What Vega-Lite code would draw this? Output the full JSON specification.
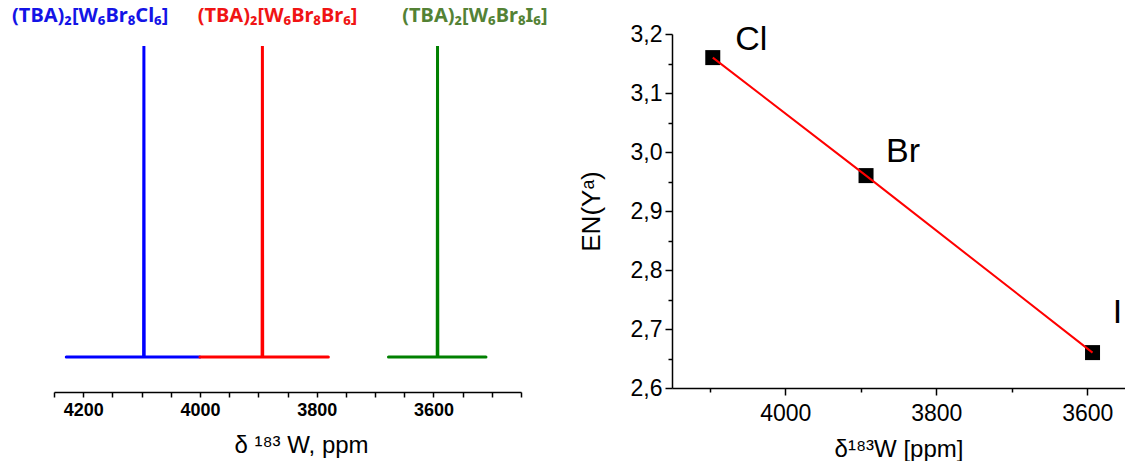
{
  "$schema": "https://vega.github.io/schema/vega-lite/v6.json",
  "background": "white",
  "autosize": {"type": "pad"},
  "padding": {"left": 12, "top": 6, "right": 0, "bottom": 0},
  "spacing": 151,
  "bounds": "flush",
  "config": {
    "view": {"stroke": null},
    "axis": {
      "domainColor": "black",
      "tickColor": "black",
      "labelColor": "black",
      "titleColor": "black",
      "grid": false,
      "labelFont": "Liberation Sans",
      "titleFont": "Liberation Sans",
      "titleFontWeight": "normal"
    }
  },
  "datasets": {
    "spectra": [
      {"compound": "Cl", "ppm": 4229, "v": 0},
      {"compound": "Cl", "ppm": 4096.5, "v": 0},
      {"compound": "Cl", "ppm": 4096, "v": 1},
      {"compound": "Cl", "ppm": 4095.5, "v": 0},
      {"compound": "Cl", "ppm": 4000, "v": 0},
      {"compound": "Br", "ppm": 4000, "v": 0},
      {"compound": "Br", "ppm": 3893.5, "v": 0},
      {"compound": "Br", "ppm": 3893, "v": 1},
      {"compound": "Br", "ppm": 3892.5, "v": 0},
      {"compound": "Br", "ppm": 3780, "v": 0},
      {"compound": "I", "ppm": 3677, "v": 0},
      {"compound": "I", "ppm": 3593.5, "v": 0},
      {"compound": "I", "ppm": 3593, "v": 1},
      {"compound": "I", "ppm": 3592.5, "v": 0},
      {"compound": "I", "ppm": 3510, "v": 0}
    ],
    "peaklabels": [
      {"compound": "Cl", "label": "(TBA)₂[W₆Br₈Cl₆]", "ppm": 4188, "v": 1.095},
      {"compound": "Br", "label": "(TBA)₂[W₆Br₈Br₆]", "ppm": 3867, "v": 1.095},
      {"compound": "I", "label": "(TBA)₂[W₆Br₈I₆]", "ppm": 3529, "v": 1.095}
    ],
    "points": [
      {"halogen": "Cl", "ppm": 4096, "en": 3.16},
      {"halogen": "Br", "ppm": 3893, "en": 2.96},
      {"halogen": "I", "ppm": 3593, "en": 2.66}
    ],
    "elabels": [
      {"halogen": "Cl", "ppm": 4045, "en": 3.19},
      {"halogen": "Br", "ppm": 3844, "en": 3.0},
      {"halogen": "I", "ppm": 3560, "en": 2.727}
    ]
  },
  "hconcat": [
    {
      "width": 467,
      "height": 358,
      "resolve": {"scale": {"color": "independent"}},
      "encoding": {
        "x": {
          "field": "ppm",
          "type": "quantitative",
          "scale": {"domain": [3450, 4250], "reverse": true, "nice": false, "zero": false},
          "axis": {
            "values": [4250, 4200, 4150, 4100, 4050, 4000, 3950, 3900, 3850, 3800, 3750, 3700, 3650, 3600, 3550, 3500, 3450],
            "format": "d",
            "labelExpr": "datum.value % 200 === 0 ? datum.label : ''",
            "labelFontWeight": "bold",
            "labelFontSize": 18,
            "labelPadding": 4,
            "labelOverlap": false,
            "labelFlush": false,
            "tickSize": 5,
            "tickWidth": 1.5,
            "domainWidth": 1.5,
            "title": "δ ¹⁸³ W, ppm",
            "titleFontSize": 24,
            "titlePadding": 14,
            "titleX": 247
          }
        },
        "y": {
          "field": "v",
          "type": "quantitative",
          "scale": {"domain": [-0.1125, 1.0386], "nice": false, "zero": false},
          "axis": null
        }
      },
      "layer": [
        {
          "data": {"name": "spectra"},
          "mark": {"type": "line", "strokeWidth": 3, "strokeCap": "round"},
          "encoding": {
            "color": {
              "field": "compound",
              "type": "nominal",
              "scale": {"domain": ["Cl", "Br", "I"], "range": ["#0000ff", "#ff0000", "#008000"]},
              "legend": null
            }
          }
        },
        {
          "data": {"name": "peaklabels"},
          "mark": {"type": "text", "font": "Noto Sans", "fontWeight": "bold", "fontSize": 20, "align": "center", "baseline": "middle"},
          "encoding": {
            "text": {"field": "label"},
            "color": {
              "field": "compound",
              "type": "nominal",
              "scale": {"domain": ["Cl", "Br", "I"], "range": ["#1414e6", "#f01414", "#548235"]},
              "legend": null
            }
          }
        }
      ]
    },
    {
      "width": 453,
      "height": 354,
      "encoding": {
        "x": {
          "field": "ppm",
          "type": "quantitative",
          "scale": {"domain": [3550, 4150], "reverse": true, "nice": false, "zero": false},
          "axis": {
            "values": [4100, 4000, 3900, 3800, 3700, 3600],
            "format": "d",
            "labelExpr": "datum.value % 200 === 0 ? datum.label : ''",
            "labelFontSize": 23,
            "labelPadding": 7,
            "labelOverlap": false,
            "labelFlush": false,
            "tickSize": {"condition": {"test": "datum.value % 200 === 0", "value": 7}, "value": 4},
            "tickWidth": 1.5,
            "domainWidth": 1.5,
            "title": "δ¹⁸³W [ppm]",
            "titleFontSize": 24,
            "titlePadding": 12
          }
        },
        "y": {
          "field": "en",
          "type": "quantitative",
          "scale": {"domain": [2.6, 3.2], "nice": false, "zero": false},
          "axis": {
            "values": [2.6, 2.65, 2.7, 2.75, 2.8, 2.85, 2.9, 2.95, 3.0, 3.05, 3.1, 3.15, 3.2],
            "labelExpr": "abs(datum.value * 10 - round(datum.value * 10)) < 0.01 ? replace(format(datum.value, '.1f'), '.', ',') : ''",
            "labelFontSize": 23,
            "labelPadding": 3,
            "labelOverlap": false,
            "labelFlush": false,
            "tickSize": {"condition": {"test": "abs(datum.value * 10 - round(datum.value * 10)) < 0.01", "value": 7}, "value": 4},
            "tickWidth": 1.5,
            "domainWidth": 1.5,
            "title": "EN(Yᵃ)",
            "titleFontSize": 26,
            "titlePadding": 26
          }
        }
      },
      "layer": [
        {
          "data": {"name": "points"},
          "mark": {"type": "square", "size": 225, "filled": true, "color": "black", "opacity": 1}
        },
        {
          "data": {"name": "points"},
          "mark": {"type": "line", "color": "#ff0000", "strokeWidth": 2}
        },
        {
          "data": {"name": "elabels"},
          "mark": {"type": "text", "font": "Liberation Sans", "fontSize": 34, "align": "center", "baseline": "middle", "color": "black"},
          "encoding": {
            "text": {"field": "halogen"}
          }
        }
      ]
    }
  ]
}
